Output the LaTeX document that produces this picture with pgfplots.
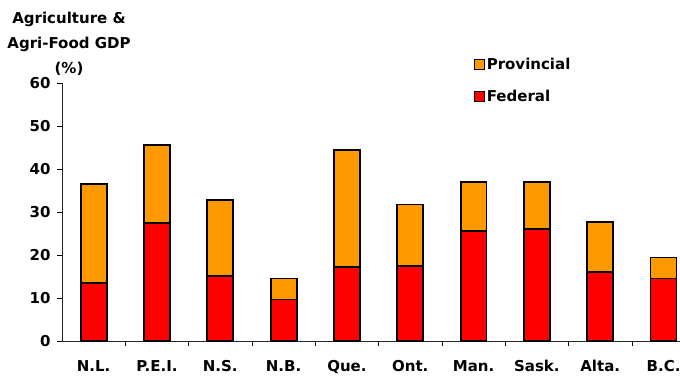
\documentclass[border=0pt]{standalone}
\usepackage{pgfplots}
\pgfplotsset{compat=1.18}
\usepackage{fontspec}
\setmainfont{DejaVu Sans}
\definecolor{prov}{HTML}{FF9900}
\definecolor{fed}{HTML}{FF0000}
\begin{document}
\begin{tikzpicture}[x=1pt,y=1pt]
\begin{axis}[
  at={(62pt,33.7pt)}, anchor=south west,
  scale only axis, width=618pt, height=258pt,
  ybar stacked, bar width=0.41,
  xmin=-0.5, xmax=9.26, ymin=0, ymax=60,
  axis x line*=bottom, axis y line*=left,
  axis line style={black!85, line width=0.8pt},
  xtick={0,...,9},
  xticklabels={N.L.,P.E.I.,N.S.,N.B.,Que.,Ont.,Man.,Sask.,Alta.,B.C.},
  major x tick style={draw=none},
  minor xtick={0.5,1.5,...,8.5},
  minor tick length=5pt,
  ytick={0,10,...,60}, major tick length=5pt, tick align=outside,
  tick style={black, line width=0.7pt},
  ticklabel style={font=\bfseries\fontsize{15}{15}\selectfont},
  xticklabel style={yshift=-11pt, text height=11pt, text depth=3pt},
  yticklabel style={xshift=-3pt},
  /pgf/number format/assume math mode=true,
  legend style={draw=none, fill=none, at={(0.666,1.105)}, anchor=north west,
    font=\bfseries\fontsize{15}{15}\selectfont, row sep=15pt, inner sep=0pt},
  legend cell align=left,
  reverse legend,
  legend image code/.code={\draw[#1, line width=1pt] (0pt,-5pt) rectangle (10pt,5pt);},
]
\addplot[fill=fed, draw=black, line width=1.8pt] coordinates {
 (0,13.5) (1,27.5) (2,15.1) (3,9.7) (4,17.2) (5,17.5) (6,25.7) (7,26.1) (8,16.2) (9,14.6)};
\addplot[fill=prov, draw=black, line width=1.8pt] coordinates {
 (0,23.1) (1,18.2) (2,17.8) (3,4.9) (4,27.3) (5,14.3) (6,11.3) (7,11.0) (8,11.5) (9,4.9)};
\legend{Federal, Provincial}
\end{axis}
\node[align=center, font=\bfseries\fontsize{15}{25}\selectfont, anchor=center, inner sep=0pt]
  at (69pt, 331pt) {Agriculture \&\\Agri-Food GDP\\(\%)};
\pgfresetboundingbox
\path[use as bounding box] (0,0) rectangle (680pt,375pt);
\end{tikzpicture}
\end{document}
